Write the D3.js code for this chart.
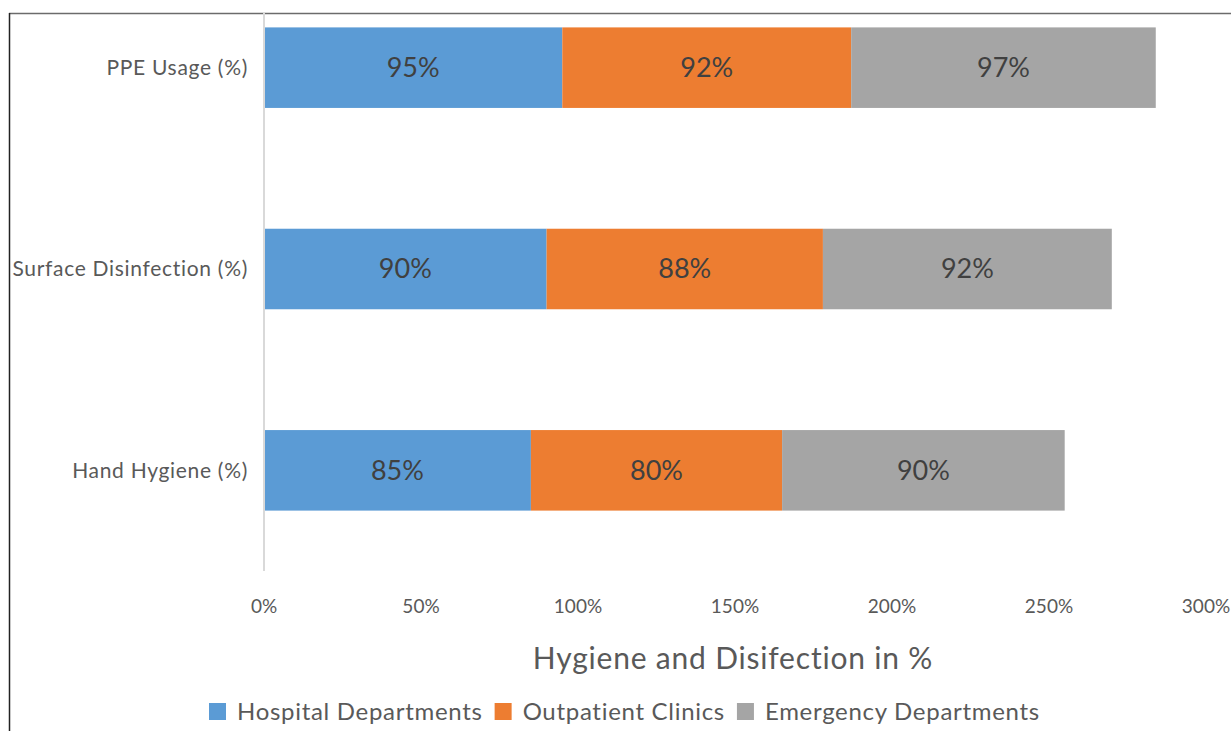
<!DOCTYPE html>
<html>
<head>
<meta charset="utf-8">
<script src="https://cdn.jsdelivr.net/npm/d3@7"></script>
<style>
  body { margin: 0; background: #fff; }
  svg text { font-family: Lato, "Open Sans", sans-serif; }
</style>
</head>
<body>
<svg width="1231" height="731"></svg>
<script>
// categories, top to bottom
let categories = ["PPE Usage (%)", "Surface Disinfection (%)", "Hand Hygiene (%)"];
let seriesNames = ["Hospital Departments", "Outpatient Clinics", "Emergency Departments"];
let hospital = [95, 90, 85];
let outpatient = [92, 88, 80];
let emergency = [97, 92, 90];
let xTicks = [0, 50, 100, 150, 200, 250, 300];
let colors = ["#5b9bd5", "#ed7d31", "#a5a5a5"];

let svg = d3.select("svg");

// outer frame (top + left edges visible)
svg.append("line").attr("x1", 9).attr("x2", 1231).attr("y1", 13.5).attr("y2", 13.5)
    .attr("stroke", "#6b6b6b").attr("stroke-width", 1.5);
svg.append("line").attr("x1", 9.5).attr("x2", 9.5).attr("y1", 13).attr("y2", 731)
    .attr("stroke", "#222").attr("stroke-width", 1.5);

let x = d3.scaleLinear().domain([0, 300]).range([264, 1206]);
let y = d3.scaleBand().domain(categories).range([-33, 571]).paddingInner(0.6).paddingOuter(0.3);

// stack the three series
let rows = categories.map((c, i) => ({cat: c, s0: hospital[i], s1: outpatient[i], s2: emergency[i]}));
let stack = d3.stack().keys(["s0", "s1", "s2"]);
let layers = stack(rows);

let g = svg.append("g");
layers.forEach((layer, k) => {
    g.selectAll(".bar" + k)
        .data(layer)
        .enter()
        .append("rect")
        .attr("x", d => x(d[0]))
        .attr("width", d => x(d[1]) - x(d[0]))
        .attr("y", d => y(d.data.cat))
        .attr("height", y.bandwidth())
        .attr("fill", colors[k]);

    g.selectAll(".lbl" + k)
        .data(layer)
        .enter()
        .append("text")
        .attr("x", d => (x(d[0]) + x(d[1])) / 2)
        .attr("y", d => y(d.data.cat) + y.bandwidth() / 2)
        .attr("dy", "0.35em")
        .attr("text-anchor", "middle")
        .attr("fill", "#404040")
        .style("font-size", "27px")
        .text(d => (d[1] - d[0]) + "%");
});

// y axis line
svg.append("line").attr("x1", 264).attr("x2", 264).attr("y1", 13).attr("y2", 571)
    .attr("stroke", "#d9d9d9").attr("stroke-width", 2);

// category labels
svg.selectAll(".cat")
    .data(categories)
    .enter()
    .append("text")
    .attr("x", 248)
    .attr("y", d => y(d) + y.bandwidth() / 2)
    .attr("dy", "0.35em")
    .attr("text-anchor", "end")
    .attr("fill", "#595959")
    .style("font-size", "21px")
    .style("letter-spacing", "0.7px")
    .text(d => d);

// x tick labels
svg.selectAll(".tick")
    .data(xTicks)
    .enter()
    .append("text")
    .attr("x", d => x(d))
    .attr("y", 606)
    .attr("dy", "0.35em")
    .attr("text-anchor", "middle")
    .attr("fill", "#595959")
    .style("font-size", "19px")
    .text(d => d + "%");

// axis title
svg.append("text")
    .attr("x", 733)
    .attr("y", 658)
    .attr("dy", "0.35em")
    .attr("text-anchor", "middle")
    .attr("fill", "#595959")
    .style("font-size", "30px")
    .style("letter-spacing", "0.8px")
    .text("Hygiene and Disifection in %");

// legend
let legend = svg.append("g");
let lx = 209;
seriesNames.forEach((name, k) => {
    legend.append("rect").attr("x", lx).attr("y", 703).attr("width", 17).attr("height", 17)
        .attr("fill", colors[k]);
    let t = legend.append("text")
        .attr("x", lx + 28)
        .attr("y", 712)
        .attr("dy", "0.35em")
        .attr("fill", "#595959")
        .style("font-size", "24px")
        .style("letter-spacing", "0.7px")
        .text(name);
    lx += 28 + t.node().getComputedTextLength() + 12;
});
</script>
</body>
</html>
